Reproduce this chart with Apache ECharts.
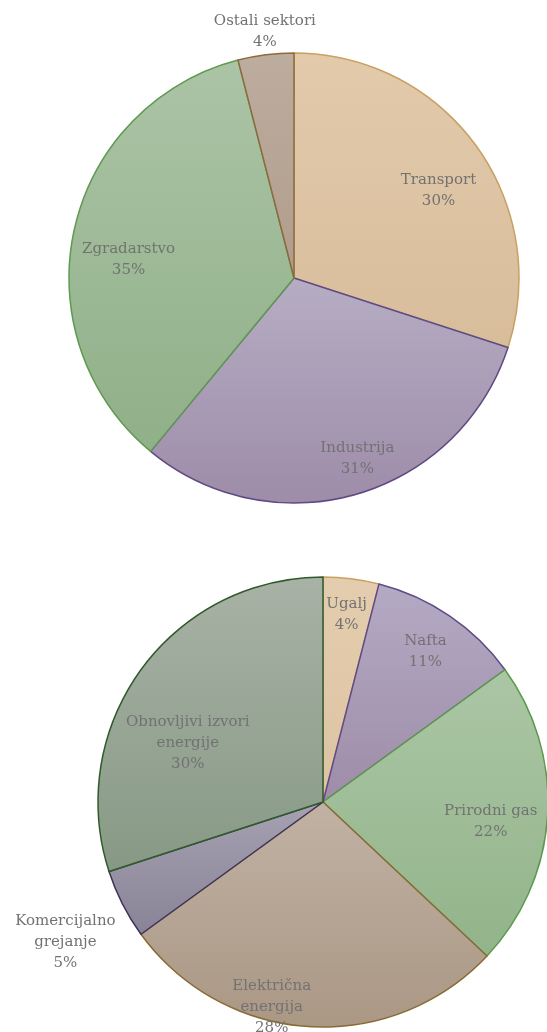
<!DOCTYPE html>
<html>
<head>
<meta charset="utf-8">
<script src="https://cdn.jsdelivr.net/npm/echarts@6/dist/echarts.min.js"></script>
<style>
  html, body { margin: 0; padding: 0; background: #ffffff; }
  #chart { width: 547px; height: 1032px; }
</style>
</head>
<body>
<div id="chart"></div>
<script>
// potrosnja po sektorima
const sectorNames = ['Transport', 'Industrija', 'Zgradarstvo', 'Ostali sektori']
const sectorValues = [30, 31, 35, 4]
// izvori energije
const sourceNames = ['Ugalj', 'Nafta', 'Prirodni gas', 'Električna\nenergija', 'Komercijalno\ngrejanje', 'Obnovljivi izvori\nenergije']
const sourceValues = [4, 11, 22, 28, 5, 30]

const R = 225
// label distance from center (fraction of radius) and small nudges
const sectorLabelR = [0.75, 0.85, 0.74, 1.105]
const sectorNudge = [[8, 12], [10, -3], [-3, 18], [2, 0]]
const sourceLabelR = [0.84, 0.81, 0.747, 0.94, 1.305, 0.655]
const sourceNudge = [[0, 0], [0, 0], [0, 9], [-38, -6], [4, 7], [-16, 28]]

// [top, bottom, border]
const sectorColors = [
  ['#e2caab', '#d8bd9b', '#c9a062'],
  ['#b6adc4', '#9e8ca8', '#5f4a86'],
  ['#abc4a6', '#90b088', '#5e9a50'],
  ['#bdad9f', '#b09c8c', '#8c6a3c']
]
const sourceColors = [
  ['#e4cdae', '#dcc3a2', '#c9a062'],
  ['#b4aac3', '#9e8ca8', '#5f4a86'],
  ['#abc6a5', '#92b48a', '#5a9a4c'],
  ['#c1b2a4', '#aa9784', '#8a6a34'],
  ['#a6a2b2', '#888396', '#3f3258'],
  ['#a8b2a6', '#879985', '#2f5a2a']
]

function buildData (names, values, colors, labelR) {
  return names.map(function (name, i) {
    return {
      name: name,
      value: values[i],
      itemStyle: {
        color: new echarts.graphic.LinearGradient(0, 0, 0, 1, [
          { offset: 0, color: colors[i][0] },
          { offset: 1, color: colors[i][1] }
        ]),
        borderColor: colors[i][2]
      },
      labelLine: { show: false, length: (labelR[i] - 1) * R, length2: 0 }
    }
  })
}

function pieSeries (center, data, nudge) {
  return {
    type: 'pie',
    center: center,
    radius: R,
    startAngle: 90,
    clockwise: true,
    avoidLabelOverlap: false,
    animation: false,
    silent: true,
    itemStyle: { borderWidth: 1.5 },
    label: {
      show: true,
      position: 'outside',
      distanceToLabelLine: 0,
      formatter: '{b}\n{c}%',
      fontFamily: 'DejaVu Serif',
      fontSize: 15,
      lineHeight: 21,
      color: '#727272'
    },
    labelLayout: function (p) {
      const n = nudge[p.dataIndex]
      return { align: 'center', verticalAlign: 'middle', dx: n[0], dy: n[1] }
    },
    data: data
  }
}

const chart = echarts.init(document.getElementById('chart'), null, { renderer: 'canvas' })
chart.setOption({
  backgroundColor: '#ffffff',
  animation: false,
  series: [
    pieSeries([294, 278], buildData(sectorNames, sectorValues, sectorColors, sectorLabelR), sectorNudge),
    pieSeries([323, 802], buildData(sourceNames, sourceValues, sourceColors, sourceLabelR), sourceNudge)
  ]
})
</script>
</body>
</html>
